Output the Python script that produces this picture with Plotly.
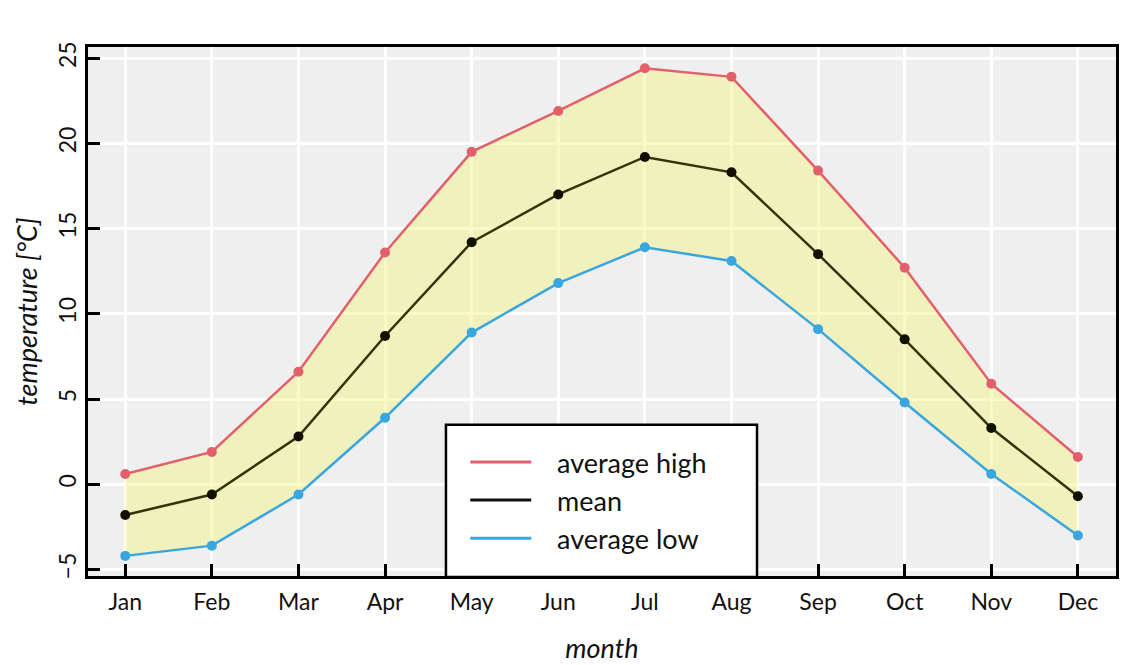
import plotly.graph_objects as go

months = ["Jan", "Feb", "Mar", "Apr", "May", "Jun", "Jul", "Aug", "Sep", "Oct", "Nov", "Dec"]
avg_high = [0.6, 1.9, 6.6, 13.6, 19.5, 21.9, 24.4, 23.9, 18.4, 12.7, 5.9, 1.6]
mean_t = [-1.8, -0.6, 2.8, 8.7, 14.2, 17.0, 19.2, 18.3, 13.5, 8.5, 3.3, -0.7]
avg_low = [-4.2, -3.6, -0.6, 3.9, 8.9, 11.8, 13.9, 13.1, 9.1, 4.8, 0.6, -3.0]
y_ticks = [-5, 0, 5, 10, 15, 20, 25]

RED = "#e2606c"
DARK = "#33330a"
BLUE = "#3aa6e0"
FONT = "Lato"
PAD = "\u00a0\u00a0\u00a0"

fig = go.Figure()
# shaded band
fig.add_trace(go.Scatter(x=months, y=avg_low, mode="lines", line=dict(width=0),
                         showlegend=False, hoverinfo="skip"))
fig.add_trace(go.Scatter(x=months, y=avg_high, mode="lines", line=dict(width=0),
                         fill="tonexty", fillcolor="rgba(245,245,130,0.45)",
                         showlegend=False, hoverinfo="skip"))

series = [("average high", avg_high, RED, RED),
          ("mean", mean_t, DARK, "#111100"),
          ("average low", avg_low, BLUE, BLUE)]
for i, (name, vals, lc, mc) in enumerate(series):
    fig.add_trace(go.Scatter(x=months, y=vals, mode="lines+markers", name=name,
                             line=dict(color=lc, width=2.5),
                             marker=dict(color=mc, size=10),
                             showlegend=False))
for i, (name, vals, lc, mc) in enumerate(series):
    fig.add_trace(go.Scatter(x=[None], y=[None], mode="lines", name=PAD + name,
                             line=dict(color="#111111" if name == "mean" else lc, width=3),
                             legendgroup=f"g{i}"))

# legend box
fig.add_shape(type="rect", xref="paper", yref="paper",
              x0=0.3482, x1=0.6508, y0=-0.002, y1=0.286,
              fillcolor="white", line=dict(color="black", width=2.5), layer="above")

fig.update_layout(
    width=1140, height=665,
    margin=dict(l=88, r=24, t=47, b=89),
    paper_bgcolor="white",
    plot_bgcolor="#efefef",
    font=dict(family=FONT, size=23, color="#111111"),
    legend=dict(x=0.367, y=0.261, xanchor="left", yanchor="top",
                bgcolor="rgba(0,0,0,0)", borderwidth=0,
                tracegroupgap=0, traceorder="grouped", itemwidth=61,
                font=dict(family=FONT, size=27, color="#111111")),
    showlegend=True,
)
fig.update_xaxes(
    type="category", range=[-0.43, 11.44],
    showgrid=True, gridcolor="white", gridwidth=3,
    ticks="inside", ticklen=12, tickwidth=2.5, tickcolor="black",
    showline=True, linecolor="black", linewidth=3, mirror=True,
    tickfont=dict(family=FONT, size=23), ticklabelstandoff=3,
    automargin=False,
    title=dict(text="<i>month</i>", font=dict(family=FONT, size=27), standoff=26),
)
fig.update_yaxes(
    range=[-5.38, 25.65], tickvals=y_ticks,
    showgrid=True, gridcolor="white", gridwidth=3, zeroline=False,
    ticks="inside", ticklen=12, tickwidth=2.5, tickcolor="black",
    showline=True, linecolor="black", linewidth=3, mirror=True,
    tickangle=-90, automargin=False,
    tickfont=dict(family=FONT, size=23),
    title=dict(text="<i>temperature [°C]</i>", font=dict(family=FONT, size=27), standoff=8),
)

fig.write_html("out.html")
